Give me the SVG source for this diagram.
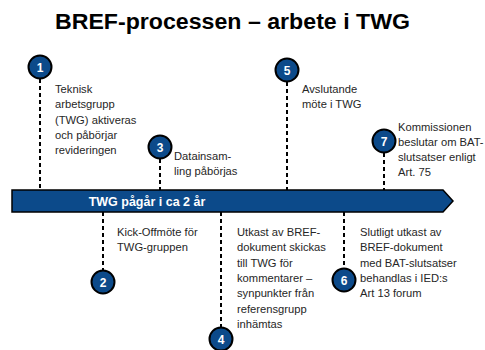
<svg xmlns="http://www.w3.org/2000/svg" width="485" height="350" viewBox="0 0 485 350">
<defs>
<style>
.t{font-family:"Liberation Sans",Arial,sans-serif;font-size:11.2px;fill:#262626}
.n{font-family:"Liberation Sans",Arial,sans-serif;font-size:12px;font-weight:bold;fill:#fff;text-anchor:middle}
.c{fill:#0C4A8A;stroke:#000;stroke-width:2}
.d{stroke:#000;stroke-width:2;stroke-dasharray:4 3;fill:none}
</style>
</defs>
<rect width="485" height="350" fill="#fff"/>
<text x="55" y="29" textLength="355" lengthAdjust="spacingAndGlyphs" font-family="'Liberation Sans',Arial,sans-serif" font-size="22" font-weight="bold" fill="#000">BREF-processen – arbete i TWG</text>
<g id="connectors">
<line class="d" x1="40" y1="79" x2="40" y2="190"/>
<line class="d" x1="160" y1="159" x2="160" y2="190"/>
<line class="d" x1="287" y1="82" x2="287" y2="190"/>
<line class="d" x1="384" y1="153" x2="384" y2="190"/>
<line class="d" x1="103" y1="212" x2="103" y2="270"/>
<line class="d" x1="221" y1="212" x2="221" y2="327"/>
<line class="d" x1="344" y1="212" x2="344" y2="268"/>
</g>
<g id="timeline">
<path d="M12,190 H443 L453,201 L443,212 H12 Z" fill="#0C4A8A" stroke="#000" stroke-width="1.5"/>
<text x="147" y="206" text-anchor="middle" font-family="'Liberation Sans',Arial,sans-serif" font-size="12.5" font-weight="bold" fill="#fff">TWG pågår i ca 2 år</text>
</g>
<g id="node1">
<circle class="c" cx="40" cy="67" r="11.5"/>
<text class="n" x="40" y="71.5">1</text>
<text class="t"><tspan x="55" y="93">Teknisk</tspan><tspan x="55" y="108">arbetsgrupp</tspan><tspan x="55" y="124">(TWG) aktiveras</tspan><tspan x="55" y="139">och påbörjar</tspan><tspan x="55" y="154">revideringen</tspan></text>
</g>
<g id="node3">
<circle class="c" cx="160" cy="147" r="11.5"/>
<text class="n" x="160" y="151.5">3</text>
<text class="t"><tspan x="174" y="160">Datainsam-</tspan><tspan x="174" y="175">ling påbörjas</tspan></text>
</g>
<g id="node5">
<circle class="c" cx="287" cy="70" r="11.5"/>
<text class="n" x="287" y="74.5">5</text>
<text class="t"><tspan x="302" y="93">Avslutande</tspan><tspan x="302" y="108">möte i TWG</tspan></text>
</g>
<g id="node7">
<circle class="c" cx="384" cy="141" r="11.5"/>
<text class="n" x="384" y="145.5">7</text>
<text class="t"><tspan x="398" y="131">Kommissionen</tspan><tspan x="398" y="146">beslutar om BAT-</tspan><tspan x="398" y="161">slutsatser enligt</tspan><tspan x="398" y="176">Art. 75</tspan></text>
</g>
<g id="node2">
<circle class="c" cx="103" cy="282" r="11.5"/>
<text class="n" x="103" y="286.5">2</text>
<text class="t"><tspan x="117" y="236">Kick-Offmöte för</tspan><tspan x="117" y="251">TWG-gruppen</tspan></text>
</g>
<g id="node4">
<circle class="c" cx="221" cy="339" r="11.5"/>
<text class="n" x="221" y="343.5">4</text>
<text class="t"><tspan x="237" y="236">Utkast av BREF-</tspan><tspan x="237" y="251">dokument skickas</tspan><tspan x="237" y="267">till TWG för</tspan><tspan x="237" y="282">kommentarer  –</tspan><tspan x="237" y="297">synpunkter från</tspan><tspan x="237" y="313">referensgrupp</tspan><tspan x="237" y="328">inhämtas</tspan></text>
</g>
<g id="node6">
<circle class="c" cx="344" cy="280" r="11.5"/>
<text class="n" x="344" y="284.5">6</text>
<text class="t"><tspan x="360" y="236">Slutligt utkast av</tspan><tspan x="360" y="251">BREF-dokument</tspan><tspan x="360" y="267">med BAT-slutsatser</tspan><tspan x="360" y="282">behandlas i IED:s</tspan><tspan x="360" y="297">Art 13 forum</tspan></text>
</g>
</svg>
